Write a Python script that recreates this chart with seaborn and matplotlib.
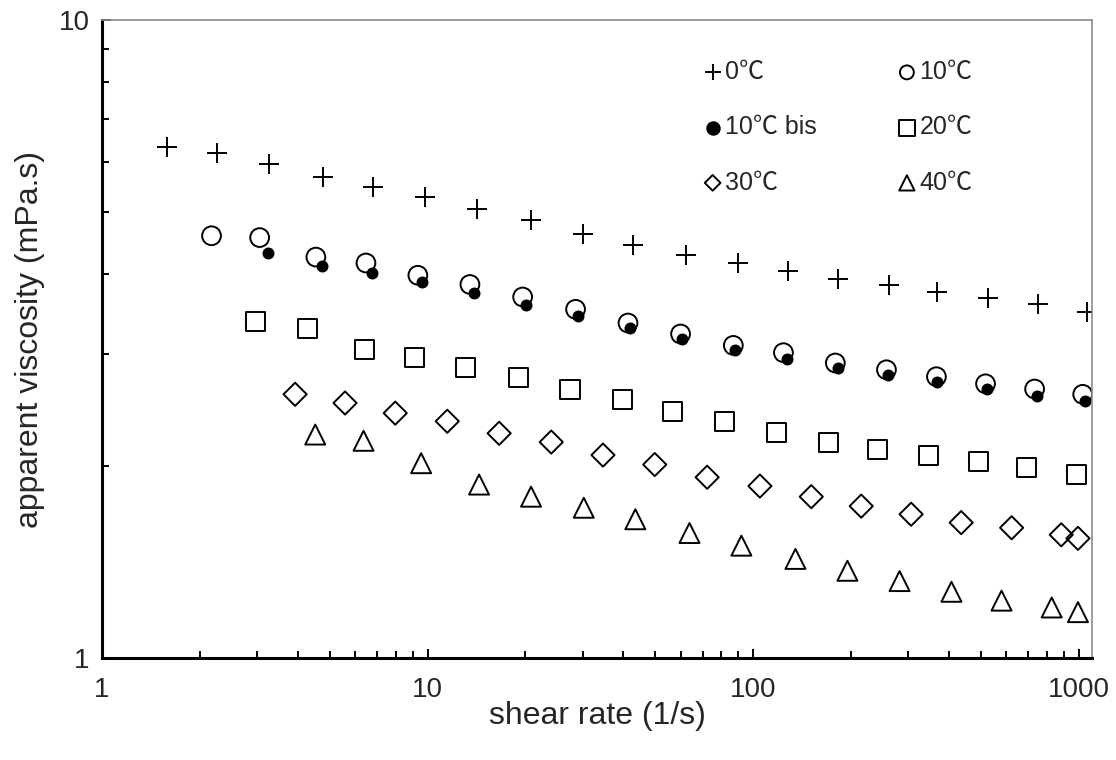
import numpy as np
import pandas as pd
import seaborn as sns
import matplotlib.pyplot as plt
from matplotlib.ticker import LogLocator, NullFormatter, FixedFormatter, FixedLocator

# data (shear rate in 1/s, viscosity in mPa.s)
rate_0 = [1.58, 2.25, 3.26, 4.77, 6.79, 9.82, 14.2, 20.8, 30.1, 42.8, 62.1, 89.7,
          128, 183, 262, 368, 526, 749, 1060]
visc_0 = [6.33, 6.19, 5.94, 5.68, 5.48, 5.28, 5.06, 4.85, 4.62, 4.44, 4.28, 4.16,
          4.04, 3.93, 3.84, 3.75, 3.67, 3.59, 3.49]

rate_10 = [2.17, 3.05, 4.54, 6.47, 9.34, 13.5, 19.6, 28.5, 41.3, 59.9, 87.0, 124,
           179, 257, 366, 518, 733, 1030]
visc_10 = [4.59, 4.56, 4.25, 4.16, 3.98, 3.85, 3.68, 3.52, 3.35, 3.22, 3.09, 3.01,
           2.90, 2.83, 2.76, 2.69, 2.64, 2.59]

rate_10b = [3.23, 4.74, 6.75, 9.61, 13.9, 20.1, 29.0, 42.0, 60.6, 88.1, 127, 182,
            259, 368, 522, 746, 1050]
visc_10b = [4.31, 4.12, 4.01, 3.89, 3.73, 3.57, 3.44, 3.29, 3.16, 3.04, 2.94, 2.85,
            2.78, 2.71, 2.64, 2.57, 2.53]

rate_20 = [2.97, 4.29, 6.39, 9.10, 13.1, 19.0, 27.4, 39.6, 56.4, 81.5, 118, 170,
           242, 345, 492, 693, 985]
visc_20 = [3.37, 3.28, 3.05, 2.96, 2.85, 2.75, 2.64, 2.54, 2.43, 2.35, 2.26, 2.18,
           2.12, 2.08, 2.03, 1.99, 1.94]

rate_30 = [3.92, 5.58, 7.96, 11.5, 16.6, 24.0, 34.6, 49.9, 72.3, 105, 151, 215,
           306, 436, 623, 885, 996]
visc_30 = [2.59, 2.51, 2.42, 2.35, 2.25, 2.18, 2.08, 2.01, 1.92, 1.86, 1.79, 1.73,
           1.68, 1.63, 1.60, 1.56, 1.54]

rate_40 = [4.52, 6.36, 9.56, 14.4, 20.8, 30.2, 43.5, 63.8, 92.1, 135, 195, 282,
           407, 580, 827, 996]
visc_40 = [2.24, 2.19, 2.02, 1.87, 1.79, 1.72, 1.65, 1.57, 1.50, 1.43, 1.37, 1.32,
           1.27, 1.23, 1.20, 1.18]

labels = ["0℃", "10℃", "10℃ bis", "20℃", "30℃", "40℃"]
rates = [rate_0, rate_10, rate_10b, rate_20, rate_30, rate_40]
viscs = [visc_0, visc_10, visc_10b, visc_20, visc_30, visc_40]

df = pd.concat([pd.DataFrame({"rate": r, "visc": v, "series": lab})
                for r, v, lab in zip(rates, viscs, labels)], ignore_index=True)

sns.set_style("white")
plt.rcParams["font.family"] = ["Liberation Sans", "Noto Sans CJK JP", "DejaVu Sans"]

fig = plt.figure(figsize=(11.16, 7.6), dpi=100)
ax = fig.add_axes([102 / 1116, 1 - 658 / 760, 990 / 1116, 638 / 760])

# marker, size (pt), face
styles = {
    "0℃": ("+", 14.4, "black"),
    "10℃": ("o", 13.5, "none"),
    "10℃ bis": ("o", 7.2, "black"),
    "20℃": ("s", 13.7, "none"),
    "30℃": ("D", 11.8, "none"),
    "40℃": ("^", 14.4, "none"),
}

for lab in labels:
    m, ms, fc = styles[lab]
    sub = df[df["series"] == lab]
    if m == "+":
        sns.scatterplot(data=sub, x="rate", y="visc", marker=m, s=ms ** 2,
                        color="black", linewidth=1.4, label=lab, ax=ax)
    else:
        sns.scatterplot(data=sub, x="rate", y="visc", marker=m, s=ms ** 2,
                        facecolor=fc, edgecolor="black", linewidth=1.4,
                        label=lab, ax=ax)

ax.set_xscale("log")
ax.set_yscale("log")
ax.set_xlim(1, 1100)
ax.set_ylim(1, 10)

ax.xaxis.set_major_locator(FixedLocator([1, 10, 100, 1000]))
ax.xaxis.set_major_formatter(FixedFormatter(["1", "10", "100", "1000"]))
ax.xaxis.set_minor_locator(LogLocator(base=10, subs=np.arange(2, 10)))
ax.xaxis.set_minor_formatter(NullFormatter())
ax.yaxis.set_major_locator(FixedLocator([1, 10]))
ax.yaxis.set_major_formatter(FixedFormatter(["1", "10"]))
ax.yaxis.set_minor_locator(LogLocator(base=10, subs=np.arange(2, 10)))
ax.yaxis.set_minor_formatter(NullFormatter())

ax.tick_params(which="major", direction="in", length=6.5, width=1.4,
               labelsize=20, color="black", left=True, bottom=True)
ax.tick_params(which="minor", direction="in", length=5, width=1.4,
               color="black", left=True, bottom=True)
ax.tick_params(axis="x", which="major", pad=14)
ax.tick_params(axis="y", which="major", pad=9)

for side in ["left", "bottom"]:
    ax.spines[side].set_color("black")
    ax.spines[side].set_linewidth(2.2)
for side in ["top", "right"]:
    ax.spines[side].set_color("#8c8c8c")
    ax.spines[side].set_linewidth(1.2)

ax.set_xlabel("shear rate (1/s)", fontsize=23, labelpad=-2)
ax.set_ylabel("apparent viscosity (mPa.s)", fontsize=23, labelpad=9.5)

# legend: two columns, row-major order as in the original
h, l = ax.get_legend_handles_labels()
order = [0, 2, 4, 1, 3, 5]
leg = ax.legend([h[i] for i in order], [l[i] for i in order], ncol=2,
                loc="upper left", bbox_to_anchor=(0.5966, 0.957),
                frameon=False, fontsize=18, borderpad=0, handlelength=0.6,
                handletextpad=0.2, columnspacing=3.3, labelspacing=1.25)
leg_sizes = {"0℃": 11, "10℃": 10, "10℃ bis": 9, "20℃": 11.5, "30℃": 8, "40℃": 11}
for handle, text in zip(leg.legend_handles, leg.get_texts()):
    handle.set_sizes([leg_sizes[text.get_text()] ** 2])

fig.savefig("out.png", dpi=100)
